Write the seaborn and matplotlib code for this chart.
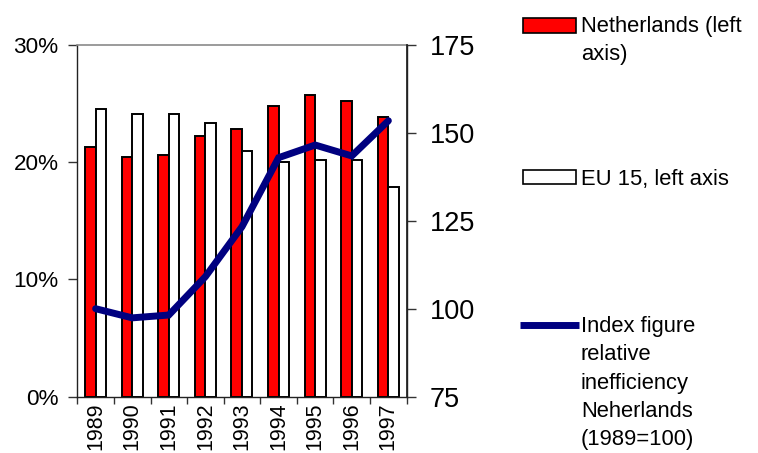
import numpy as np
import pandas as pd
import matplotlib
matplotlib.use("Agg")
import matplotlib.pyplot as plt
from matplotlib.patches import Rectangle
from matplotlib.lines import Line2D
from matplotlib.ticker import FixedLocator, FuncFormatter, NullFormatter
import seaborn as sns

# Data
years = ["1989", "1990", "1991", "1992", "1993", "1994", "1995", "1996", "1997"]
netherlands = [21.3, 20.4, 20.6, 22.2, 22.8, 24.8, 25.7, 25.2, 23.8]   # % (left axis)
eu15 = [24.5, 24.1, 24.1, 23.3, 20.9, 20.0, 20.2, 20.2, 17.9]          # % (left axis)
inefficiency_index = [100.0, 97.4, 98.2, 109.1, 123.3, 142.9, 146.5, 143.4, 153.4]  # right axis

series_names = ["Netherlands", "EU 15"]
legend_labels = ["Netherlands (left\naxis)", "EU 15, left axis",
                 "Index figure\nrelative\ninefficiency\nNeherlands\n(1989=100)"]

RED = "#FF0000"
NAVY = "#000080"
FONT = ["Liberation Sans", "DejaVu Sans"]

sns.set_theme(style="white")
plt.rcParams["font.family"] = FONT

df = pd.DataFrame({
    "year": years * 2,
    "value": netherlands + eu15,
    "series": [series_names[0]] * len(years) + [series_names[1]] * len(years),
})

fig = plt.figure(figsize=(7.58, 4.53), dpi=100)
ax = fig.add_axes([0.102, 0.1243, 0.4345, 0.777])

sns.barplot(data=df, x="year", y="value", hue="series", order=years,
            hue_order=series_names, palette=[RED, "white"], width=0.574,
            edgecolor="black", linewidth=1.4, saturation=1, legend=False, ax=ax)

ax.set_xlim(-0.5, len(years) - 0.5)
ax.set_ylim(0, 30)
ax.set_xlabel("")
ax.set_ylabel("")

# left axis: percentage ticks
ax.yaxis.set_major_locator(FixedLocator([0, 10, 20, 30]))
ax.yaxis.set_major_formatter(FuncFormatter(lambda v, p: f"{v:.0f}%"))
ax.tick_params(axis="y", which="major", direction="out", length=6.5, width=1,
               color="#333333", pad=7, labelsize=16.2, labelcolor="black", left=True)

# x axis: ticks on category boundaries, labels at category centres
pos = np.arange(len(years))
ax.xaxis.set_major_locator(FixedLocator(np.arange(len(years) + 1) - 0.5))
ax.xaxis.set_major_formatter(NullFormatter())
ax.xaxis.set_minor_locator(FixedLocator(pos))
ax.set_xticklabels(years, minor=True, rotation=90)
ax.tick_params(axis="x", which="major", direction="out", length=5, width=1,
               color="#333333", bottom=True)
ax.tick_params(axis="x", which="minor", length=0, pad=4, labelsize=15.5,
               labelcolor="black")

for side in ["left", "bottom", "right"]:
    ax.spines[side].set_color("#222222")
    ax.spines[side].set_linewidth(1)
ax.spines["top"].set_color("#8a8a8a")
ax.spines["top"].set_linewidth(1.2)

# right axis: index figure
ax2 = ax.twinx()
sns.lineplot(x=pos, y=inefficiency_index, color=NAVY, linewidth=5, ax=ax2,
             solid_joinstyle="miter")
ax2.set_ylim(75, 175)
ax2.yaxis.set_major_locator(FixedLocator([75, 100, 125, 150, 175]))
ax2.tick_params(axis="y", direction="out", length=6.5, width=1, color="#333333",
                pad=10, labelsize=19.5, labelcolor="black", right=True)
for s in ax2.spines.values():
    s.set_visible(False)
ax2.spines["right"].set_visible(True)
ax2.spines["right"].set_color("#222222")
ax2.grid(False)
ax.grid(False)

# legend drawn beside the plot area (pixel coordinates from the top-left)
W, H = 758, 453


def fx(x):
    return x / W


def fy(y):
    return 1 - y / H


fig.patches.append(Rectangle((fx(523), fy(33)), fx(576) - fx(523), fy(18) - fy(33),
                             transform=fig.transFigure, facecolor=RED,
                             edgecolor="black", linewidth=1.2))
fig.patches.append(Rectangle((fx(523), fy(184)), fx(576) - fx(523), fy(170) - fy(184),
                             transform=fig.transFigure, facecolor="white",
                             edgecolor="black", linewidth=1.2))
fig.lines.append(Line2D([fx(520), fx(579)], [fy(325), fy(325)],
                        transform=fig.transFigure, color=NAVY, linewidth=5,
                        solid_capstyle="butt"))

# each label is anchored at the baseline of its last line
text_kw = dict(fontsize=15.8, ha="left", va="baseline", linespacing=1.45,
               color="black", family=FONT)
fig.text(fx(581), fy(60), legend_labels[0], **text_kw)
fig.text(fx(581), fy(185), legend_labels[1], **text_kw)
fig.text(fx(581), fy(445), legend_labels[2], **text_kw)

fig.savefig("out.png", dpi=100)
